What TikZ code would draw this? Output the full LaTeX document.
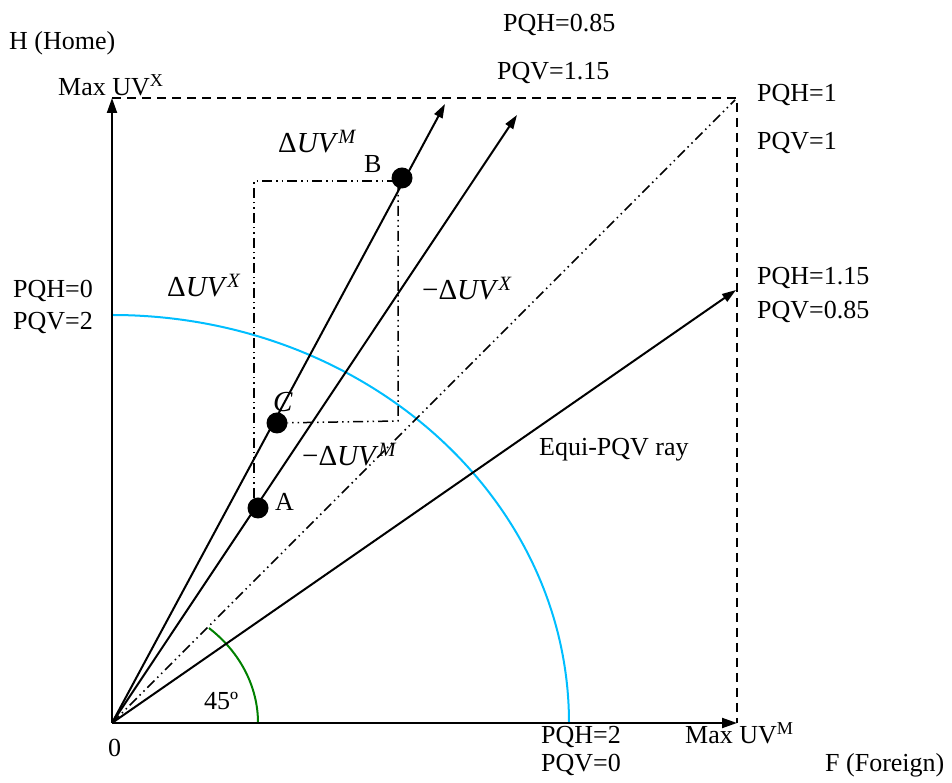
\documentclass[tikz,border=0pt]{standalone}
\usepackage{fontspec}
\setmainfont{Liberation Serif}
\usetikzlibrary{arrows.meta}
\definecolor{arcblue}{RGB}{0,190,255}
\definecolor{arcgreen}{RGB}{0,128,0}
\begin{document}
\begin{tikzpicture}[x=1pt,y=1pt,
  lbl/.style={anchor=base west, inner sep=0pt, font=\fontsize{26}{30}\selectfont},
  mlbl/.style={anchor=base west, inner sep=0pt, font=\fontsize{29}{33}\selectfont},
  axisline/.style={line width=2pt, -{Triangle[length=15pt,width=10pt]}},
  rayline/.style={line width=2pt, -{Triangle[length=14pt,width=9pt]}},
  boxline/.style={line width=1.5pt, dash pattern=on 9pt off 6pt},
  ddot/.style={line width=1.5pt, dash pattern=on 10pt off 4pt on 1.5pt off 4pt on 1.5pt off 4pt},
  dotnode/.style={circle, fill=black, minimum size=21pt, inner sep=0pt}]
\useasboundingbox (0,0) rectangle (952,783);

% key points
\coordinate (O) at (112,60);
\coordinate (Ytop) at (112,685);
\coordinate (Xend) at (737,60);
\coordinate (Corner) at (737,685);
\coordinate (R1) at (445,679);
\coordinate (R2) at (517,668);
\coordinate (R3) at (735,683);
\coordinate (R4) at (736,493);
\coordinate (TL) at (254,602);
\coordinate (TR) at (398,602);
\coordinate (BR) at (398,362);
\coordinate (AL) at (254,285);

% arcs
\draw[arcblue, line width=2pt] (569,60) arc[start angle=0, end angle=90, x radius=457, y radius=408];
\draw[arcgreen, line width=2pt] (258,60) arc[start angle=0, end angle=48.4, x radius=146, y radius=127];

% dashed box
\draw[boxline] (Ytop) -- (Corner) -- (Xend);

% axes
\draw[axisline] (O) -- (Ytop);
\draw[axisline] (O) -- (Xend);

% rays
\draw[rayline] (O) -- (R1);
\draw[rayline] (O) -- (R2);
\draw[ddot] (O) -- (R3);
\draw[rayline] (O) -- (R4);

% dots
\node[dotnode] (B) at (402,605) {};
\node[dotnode] (C) at (277,360) {};
\node[dotnode] (A) at (258,275) {};

% dash-dot rectangle
\draw[ddot] (AL) -- (TL) -- (TR);
\draw[ddot] (TR) -- (BR) -- (C);

% labels
\node[lbl] (lH) at (9,733) {H (Home)};
\node[lbl] (lMaxX) at (58,687) {Max UV\textsuperscript{X}};
\node[lbl] (l085) at (503,751) {PQH=0.85};
\node[lbl] (l115) at (497,703) {PQV=1.15};
\node[lbl] (lPQH1) at (757,681) {PQH=1};
\node[lbl] (lPQV1) at (757,633) {PQV=1};
\node[mlbl] (lDM) at (278,630) {Δ\textit{UV}\textsuperscript{\itshape M}};
\node[lbl] (lB) at (364,610) {B};
\node[mlbl] (lDX) at (167,486) {Δ\textit{UV}\textsuperscript{\itshape X}};
\node[mlbl] (lmDX) at (422,483) {−Δ\textit{UV}\textsuperscript{\itshape X}};
\node[lbl] (lPQH0) at (13,485) {PQH=0};
\node[lbl] (lPQV2) at (13,453) {PQV=2};
\node[lbl] (lPQH115) at (757,498) {PQH=1.15};
\node[lbl] (lPQV085) at (757,464) {PQV=0.85};
\node[mlbl] (lC) at (273,371) {\textit{C}};
\node[mlbl] (lmDM) at (302,317) {−Δ\textit{UV}\textsuperscript{\itshape M}};
\node[lbl] (lA) at (275,272) {A};
\node[lbl] (lEqui) at (539,327) {Equi-PQV ray};
\node[lbl] (l45) at (204,73) {45º};
\node[lbl] (l0) at (108,26) {0};
\node[lbl] (lPQH2) at (541,39) {PQH=2};
\node[lbl] (lPQV0) at (541,11) {PQV=0};
\node[lbl] (lMaxM) at (685,39) {Max UV\textsuperscript{M}};
\node[lbl] (lF) at (825,11) {F (Foreign)};
\end{tikzpicture}
\end{document}
